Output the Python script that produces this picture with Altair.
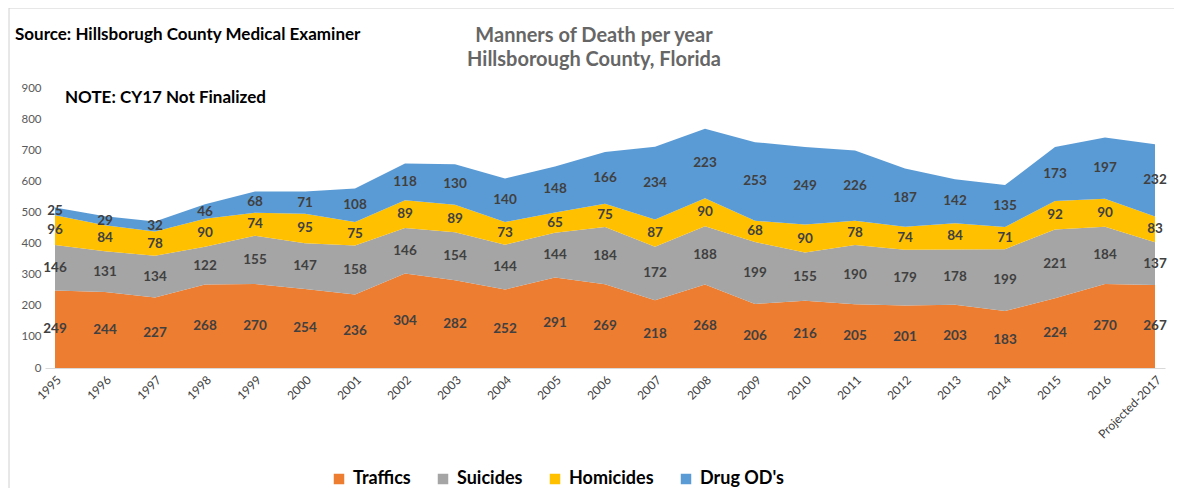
import altair as alt
import pandas as pd

years = ["1995", "1996", "1997", "1998", "1999", "2000", "2001", "2002", "2003", "2004",
         "2005", "2006", "2007", "2008", "2009", "2010", "2011", "2012", "2013", "2014",
         "2015", "2016", "Projected-2017"]
traffics = [249, 244, 227, 268, 270, 254, 236, 304, 282, 252, 291, 269, 218, 268, 206, 216, 205, 201, 203, 183, 224, 270, 267]
suicides = [146, 131, 134, 122, 155, 147, 158, 146, 154, 144, 144, 184, 172, 188, 199, 155, 190, 179, 178, 199, 221, 184, 137]
homicides = [96, 84, 78, 90, 74, 95, 75, 89, 89, 73, 65, 75, 87, 90, 68, 90, 78, 74, 84, 71, 92, 90, 83]
drug_od = [25, 29, 32, 46, 68, 71, 108, 118, 130, 140, 148, 166, 234, 223, 253, 249, 226, 187, 142, 135, 173, 197, 232]

series_names = ["Traffics", "Suicides", "Homicides", "Drug OD's"]
series_colors = ["#ED7D31", "#A5A5A5", "#FFC000", "#5B9BD5"]
y_ticks = [0, 100, 200, 300, 400, 500, 600, 700, 800, 900]
title_lines = "Manners of Death per year\nHillsborough County, Florida"
source_text = "Source: Hillsborugh County Medical Examiner"
note_text = "NOTE: CY17 Not Finalized"

rows = []
for i, y in enumerate(years):
    for k, (name, vals) in enumerate(zip(series_names, [traffics, suicides, homicides, drug_od])):
        rows.append({"year": y, "series": name, "value": vals[i], "order": k})
df = pd.DataFrame(rows)

FONT = "Lato"

x_axis = alt.Axis(title=None, labelAngle=-45, labelFontSize=12, labelColor="#404040",
                  labelFont=FONT, ticks=False, domainColor="#d9d9d9",
                  labelPadding=6, grid=False, labelOverlap=False)
y_axis = alt.Axis(title=None, values=y_ticks, grid=False, domain=False, ticks=False,
                  labelOverlap=False, labelFlush=False, labelBound=False,
                  labelFontSize=11.5, labelColor="#595959", labelFont=FONT, labelPadding=4)
x_scale = alt.Scale(type="point", padding=0.2)
y_scale = alt.Scale(domain=[0, 900], nice=False)

base = alt.Chart(df)

area = base.mark_area(opacity=1).encode(
    x=alt.X("year:N", sort=years, scale=x_scale, axis=x_axis),
    y=alt.Y("value:Q", stack="zero", scale=y_scale, axis=y_axis),
    color=alt.Color("series:N",
                    scale=alt.Scale(domain=series_names, range=series_colors),
                    legend=alt.Legend(title=None, orient="none", direction="horizontal",
                                      legendX=285, legendY=382,
                                      symbolType="square", symbolSize=110,
                                      symbolStrokeWidth=0,
                                      labelFontSize=18, labelFont=FONT, labelFontWeight="bold",
                                      labelColor="#000000", columnPadding=23, labelOffset=5)),
    order=alt.Order("order:Q", sort="ascending"),
)

labels = base.transform_stack(
    stack="value", as_=["y0", "y1"], groupby=["year"],
    sort=[alt.SortField("order", order="ascending")]
).transform_calculate(
    mid="(datum.y0 + datum.y1) / 2"
).mark_text(fontSize=13.5, fontWeight="bold", color="#404040", font=FONT).encode(
    x=alt.X("year:N", sort=years, scale=x_scale, axis=x_axis),
    y=alt.Y("mid:Q", scale=y_scale, axis=y_axis),
    text="value:Q",
)

ann = alt.Chart(pd.DataFrame({"t": [source_text]})).mark_text(
    align="left", baseline="middle", fontSize=17, fontWeight="bold", font=FONT, color="#000000"
).encode(x=alt.value(-30), y=alt.value(-53), text="t:N")

note = alt.Chart(pd.DataFrame({"t": [note_text]})).mark_text(
    align="left", baseline="middle", fontSize=17, fontWeight="bold", font=FONT, color="#000000"
).encode(x=alt.value(20), y=alt.value(10), text="t:N")

title = alt.Chart(pd.DataFrame({"t": [title_lines]})).mark_text(
    align="center", baseline="top", fontSize=20, fontWeight="bold", font=FONT,
    color="#666666", lineBreak="\n", lineHeight=24
).encode(x=alt.value(549), y=alt.value(-62), text="t:N")

frame = alt.Chart(pd.DataFrame({"t": [0]})).mark_rect(
    fill="transparent", stroke="#d0d0d0", strokeWidth=1
).encode(x=alt.value(-36), x2=alt.value(1300), y=alt.value(-80), y2=alt.value(500))

chart = alt.layer(frame, area, labels, ann, note, title).properties(
    width=1120, height=280,
    padding={"left": 37, "top": 80, "right": 9, "bottom": 120},
    autosize=alt.AutoSizeParams(type="none"),
).configure_view(stroke=None)

chart.save("out.html", embed_options={"renderer": "svg", "actions": False})
